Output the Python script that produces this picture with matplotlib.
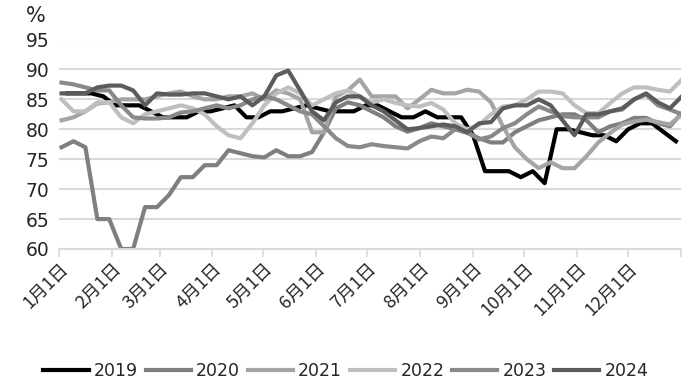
import numpy as np
import matplotlib
matplotlib.use("Agg")
import matplotlib.pyplot as plt

plt.rcParams['font.family'] = ['DejaVu Sans']

years = ['2019', '2020', '2021', '2022', '2023', '2024']
colors = ['#000000', '#7f7f7f', '#a5a5a5', '#bfbfbf', '#8a8a8a', '#5c5c5c']
start_day = [5.0, 1.5, 1.5, 1.5, 1.5, 1.5]

v2019 = [86, 86, 86, 85.5, 84, 84, 84, 83, 82, 82, 82, 83, 83, 83.5, 84, 82,
         82, 83, 83, 83.5, 84, 83.5, 83, 83, 83, 84, 84, 83, 82, 82, 83, 82,
         82, 82, 79, 73, 73, 73, 72, 73, 71, 80, 80, 79.5, 79, 79, 78, 80,
         81, 81, 79.5, 78]
v2020 = [77, 78, 77, 65, 65, 60, 60, 67, 67, 69, 72, 72, 74, 74, 76.5, 76,
         75.5, 75.3, 76.5, 75.5, 75.5, 76.2, 79.5, 83.5, 84.5, 84, 83, 82, 80.5,
         79.6, 80.2, 81, 80.5, 80, 79.4, 78.5, 77.8, 77.8, 79.5, 80.5, 81.5,
         82, 82.5, 82.5, 81.5, 79.5, 80.5, 81, 81.9, 81.9, 81, 80.5, 82.7]
v2021 = [81.5, 82, 83, 84.3, 84.5, 85, 85, 85, 85.5, 86, 86.3, 85.5, 85, 85,
         85.5, 85.5, 86, 85, 86.5, 86, 85, 79.5, 79.5, 85.5, 86.5, 88.3, 85.5,
         85.5, 85.5, 83.5, 85, 86.6, 86, 86, 86.6, 86.3, 84.5, 80.5, 77, 75,
         73.5, 74.5, 73.5, 73.5, 75.5, 77.8, 79.4, 80.8, 81.3, 81.6, 81.2,
         80.8, 82.5]
v2022 = [85, 83, 83, 84.5, 84.5, 82, 81, 82.5, 83, 83.5, 84, 83.5, 82.5,
         80.5, 79, 78.5, 81, 84, 86, 87, 86, 84, 85, 86, 86.5, 85.5, 84.5, 85,
         84.4, 84, 83.8, 84.4, 83.3, 81, 80, 80.7, 82.5, 83.8, 84, 85, 86.3,
         86.3, 86, 84, 82.7, 82.7, 84.4, 86, 87, 87, 86.6, 86.3, 88.3]
v2023 = [87.8, 87.5, 87, 86.5, 86.5, 84, 82, 81.8, 81.8, 82, 82.8, 83, 83.5,
         84, 83.5, 84, 85, 85.5, 85, 84, 83, 82.5, 80.5, 78.5, 77.2, 77, 77.5,
         77.2, 77, 76.8, 78, 78.8, 78.5, 80, 79.6, 78.3, 78.8, 80.2, 81, 82.5,
         83.8, 83, 82.2, 82, 82, 82, 83, 83.3, 85, 85.8, 84, 83.3, 82.5]
v2024 = [86, 86, 86, 87, 87.3, 87.3, 86.5, 84, 86, 85.8, 85.8, 86, 86, 85.5,
         85, 85.5, 84, 85.5, 89, 89.8, 86.5, 83, 81.5, 84.5, 85.5, 85.5, 84,
         83, 81.5, 80, 80.2, 80.5, 80.8, 80.5, 79.5, 81, 81.2, 83.5, 84, 84,
         85, 84, 81.5, 79, 82.5, 82.5, 83, 83.5, 85, 86, 84.5, 83.5, 85.5]
series = [v2019, v2020, v2021, v2022, v2023, v2024]

month_days = [0, 31, 59, 90, 120, 151, 181, 212, 243, 273, 304, 334, 365]
month_labels = [f'{m}月1日' for m in range(1, 13)]

fig = plt.figure(figsize=(6.94, 3.9), dpi=100)
ax = fig.add_axes([59 / 694, 1 - 249 / 390, 622 / 694, 209.5 / 390])

for yr, vals, c, d0 in zip(years, series, colors, start_day):
    x = d0 + 7 * np.arange(len(vals))
    ax.plot(x, vals, color=c, lw=3, label=yr, solid_joinstyle='round')

ax.set_xlim(0, 365)
ax.set_ylim(60, 95)
ax.set_yticks(range(60, 96, 5))
ax.yaxis.grid(True, color='#d9d9d9', lw=1.5)
ax.set_axisbelow(True)
for s in ['top', 'right', 'left']:
    ax.spines[s].set_visible(False)
ax.spines['bottom'].set_color('#d9d9d9')
ax.spines['bottom'].set_linewidth(1.5)
ax.tick_params(axis='y', length=0, pad=7, labelsize=13.5, labelcolor='#262626')

ax.set_xticks(month_days)
ax.set_xticklabels(month_labels + [''], rotation=45, ha='right',
                   rotation_mode='anchor', family=['Noto Sans CJK SC', 'DejaVu Sans'],
                   fontsize=13, color='#262626')
ax.tick_params(axis='x', length=6, width=1.2, color='#d9d9d9', pad=2)

fig.text(26 / 694, 1 - 16 / 390, '%', fontsize=15, va='center', ha='left',
         color='#262626')

fig.legend(loc='center', bbox_to_anchor=(346 / 694, 1 - 371 / 390), ncol=6,
           frameon=False, handlelength=2.6, handletextpad=0.3,
           columnspacing=0.45, fontsize=12.5, labelcolor='#262626')

fig.savefig('out.png', dpi=100)
